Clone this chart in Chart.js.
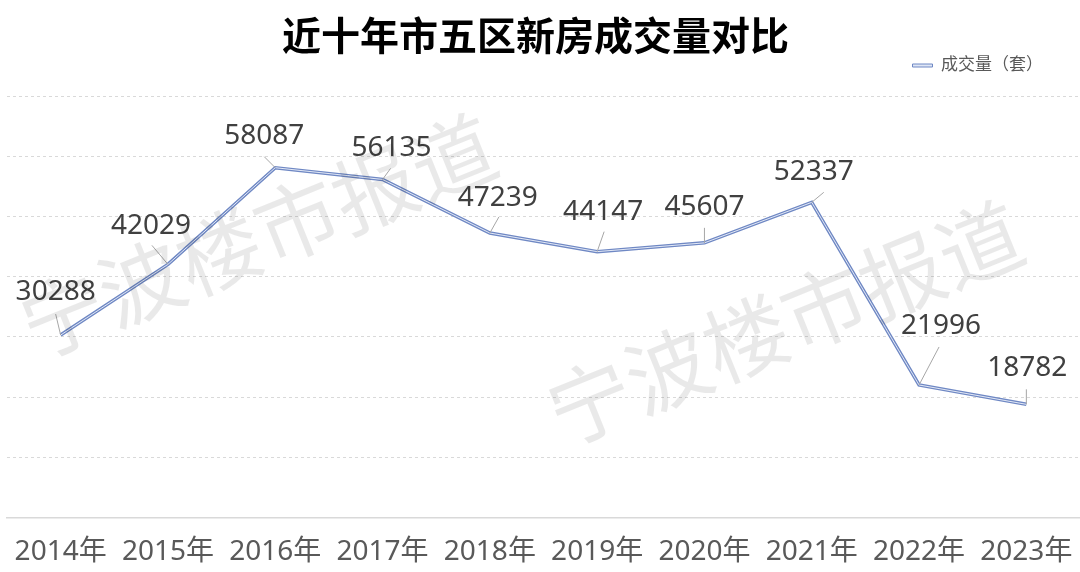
<!DOCTYPE html>
<html>
<head>
<meta charset="utf-8">
<script src="https://cdn.jsdelivr.net/npm/chart.js@4/dist/chart.umd.min.js"></script>
<style>
  html, body { margin: 0; padding: 0; background: #fff; overflow: hidden; }
  #wrap { width: 1080px; height: 572px; }
</style>
</head>
<body>
<div id="wrap"><canvas id="chart"></canvas></div>
<script>
const years = ['2014年', '2015年', '2016年', '2017年', '2018年', '2019年', '2020年', '2021年', '2022年', '2023年'];
const volumes = [30288, 42029, 58087, 56135, 47239, 44147, 45607, 52337, 21996, 18782];
const seriesName = '成交量（套）';
const chartTitle = '近十年市五区新房成交量对比';
const watermark = '宁波楼市报道';

// label placement relative to each point (label centre, leader end)
const labelOffsets = [[-5, -43], [-17, -38], [-11, -32], [9, -31], [8, -35], [6, -40], [0, -36], [2, -30], [22, -59], [1, -36]];
const leaderEnds = [[-5, -21], [-16, -19], [-11, -11], [8, -11], [9, -16], [7, -20], [0, -15], [12, -10], [20, -38], [0, -15]];

const FONT = '"Noto Sans", "Noto Sans CJK SC", sans-serif';

const valueLabels = {
  id: 'valueLabels',
  afterDatasetsDraw(chart) {
    const ctx = chart.ctx;
    const meta = chart.getDatasetMeta(0);
    ctx.save();
    meta.data.forEach((pt, i) => {
      const lead = leaderEnds[i];
      ctx.strokeStyle = '#a6a6a6';
      ctx.lineWidth = 1;
      ctx.beginPath();
      ctx.moveTo(pt.x, pt.y);
      ctx.lineTo(pt.x + lead[0], pt.y + lead[1]);
      ctx.stroke();

      const off = labelOffsets[i];
      ctx.fillStyle = '#404040';
      ctx.font = '28px ' + FONT;
      ctx.textAlign = 'center';
      ctx.textBaseline = 'middle';
      ctx.fillText(String(volumes[i]), pt.x + off[0], pt.y + off[1]);
    });
    ctx.restore();
  }
};

const watermarkPlugin = {
  id: 'watermark',
  afterDraw(chart) {
    const ctx = chart.ctx;
    ctx.save();
    ctx.fillStyle = 'rgba(0, 0, 0, 0.085)';
    ctx.font = '84px "Noto Sans CJK SC", sans-serif';
    ctx.textAlign = 'center';
    ctx.textBaseline = 'middle';
    [[258, 236], [785, 323]].forEach(([x, y]) => {
      ctx.save();
      ctx.translate(x, y);
      ctx.rotate(-22 * Math.PI / 180);
      ctx.fillText(watermark, 0, 0);
      ctx.restore();
    });
    ctx.restore();
  }
};

// nudge the title and legend to where the original sits
const boxShift = {
  id: 'boxShift',
  afterLayout(chart) {
    const lg = chart.legend;
    if (lg) {
      lg.right -= 25;
      lg.left -= 25;
      lg.top -= 12;
      lg.bottom -= 12;
    }
    const tb = chart.titleBlock;
    if (tb) {
      tb.left -= 8;
      tb.right -= 8;
    }
  }
};

new Chart(document.getElementById('chart'), {
  type: 'line',
  data: {
    labels: years,
    datasets: [
      {
        label: seriesName,
        data: volumes,
        borderColor: '#6f88c4',
        backgroundColor: '#8a9fd0',
        borderWidth: 3.5,
        pointRadius: 0,
        tension: 0
      },
      {
        label: 'inner',
        data: volumes,
        borderColor: '#e3e9f6',
        borderWidth: 1,
        pointRadius: 0,
        tension: 0,
        order: -1
      }
    ]
  },
  options: {
    responsive: true,
    maintainAspectRatio: false,
    animation: false,
    layout: { padding: { left: 7, right: 0, top: 0, bottom: -15 } },
    plugins: {
      title: {
        display: true,
        text: chartTitle,
        color: '#000',
        font: { family: '"Noto Sans CJK SC", sans-serif', size: 39, weight: 'bold', lineHeight: 1.0 },
        padding: { top: 16, bottom: 2 }
      },
      legend: {
        position: 'top',
        align: 'end',
        labels: {
          color: '#595959',
          font: { family: FONT, size: 17 },
          boxWidth: 20,
          boxHeight: 3,
          padding: 12,
          generateLabels(chart) {
            const items = Chart.defaults.plugins.legend.labels.generateLabels(chart);
            return items.filter(it => it.text === seriesName).map(it => {
              it.lineWidth = 1;
              it.fillStyle = '#dfe6f5';
              it.strokeStyle = '#6f88c4';
              return it;
            });
          }
        }
      },
      tooltip: { enabled: false }
    },
    scales: {
      x: {
        offset: true,
        grid: { display: false, drawTicks: false },
        border: { display: true, color: '#d9d9d9', width: 1.5 },
        ticks: {
          color: '#595959',
          font: { family: FONT, size: 28 },
          padding: 18,
          maxRotation: 0,
          autoSkip: false
        },
        afterFit(scale) {
          scale.paddingLeft = 0;
          scale.paddingRight = 0;
        }
      },
      y: {
        min: 0,
        max: 70000,
        ticks: { display: false, stepSize: 10000 },
        border: { display: false, dash: [3, 3] },
        grid: { color: '#d9d9d9', lineWidth: 1, drawTicks: false }
      }
    }
  },
  plugins: [valueLabels, watermarkPlugin, boxShift]
});
</script>
</body>
</html>
